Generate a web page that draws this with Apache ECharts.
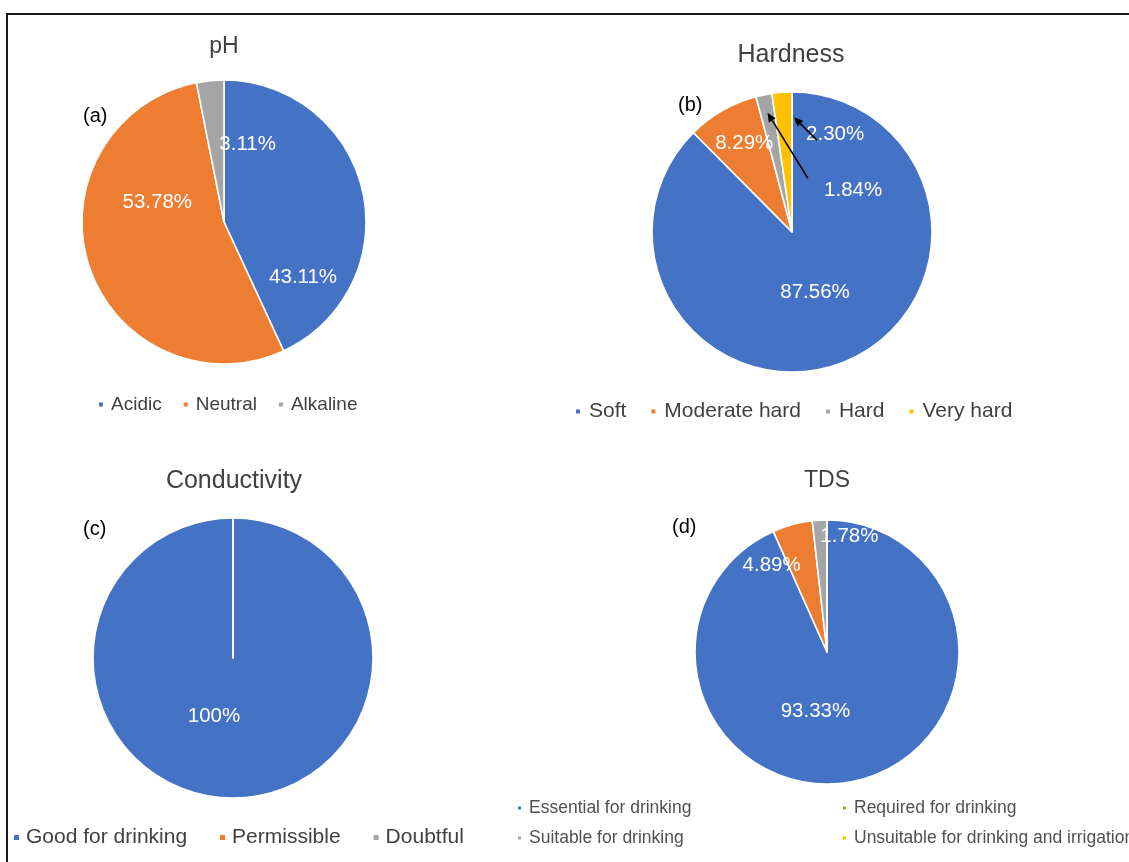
<!DOCTYPE html>
<html>
<head>
<meta charset="utf-8">
<title>Water quality classification</title>
<script src="https://cdn.jsdelivr.net/npm/echarts@6/dist/echarts.min.js"></script>
<style>
  html, body { margin: 0; padding: 0; background: #fff; }
  #chart { width: 1129px; height: 862px; }
</style>
</head>
<body>
<div id="chart"></div>
<script>
// ---- data (percent of samples in each class) ----
const phCategories = ['Acidic', 'Neutral', 'Alkaline'];
const phValues = [43.11, 53.78, 3.11];

const hardnessCategories = ['Soft', 'Moderate hard', 'Hard', 'Very hard'];
const hardnessValues = [87.56, 8.29, 1.84, 2.30];

const conductivityCategories = ['Good for drinking', 'Permissible', 'Doubtful'];
const conductivityValues = [100, 0, 0];

const tdsCategories = ['Essential for drinking', 'Required for drinking',
                       'Suitable for drinking', 'Unsuitable for drinking and irrigation'];
const tdsValues = [93.33, 4.89, 1.78, 0];

const panelTitles = ['pH', 'Hardness', 'Conductivity', 'TDS'];
const panelTags = ['(a)', '(b)', '(c)', '(d)'];

// ---- styling / layout ----
const FONT = '"Liberation Sans", Arial, Helvetica, sans-serif';
const PALETTE = ['#4472C4', '#ED7D31', '#A5A5A5', '#FFC000'];
const TEXT = '#404040';

// pie geometry and where each value label sits (clockwise degrees from 12 o'clock, fraction of radius)
const panels = [
  { cats: phCategories, vals: phValues, cx: 224, cy: 222, r: 142,
    titleX: 224, titleY: 47, titleSize: 23, tagX: 83, tagY: 117,
    labelPlaces: [[125, 0.68], [286.6, 0.49], [17, 0.57]] },
  { cats: hardnessCategories, vals: hardnessValues, cx: 792, cy: 232, r: 140,
    titleX: 791, titleY: 55, titleSize: 25, tagX: 678, tagY: 106,
    labelPlaces: [[159, 0.46], [331.7, 0.72], [55.5, 0.53], [23.9, 0.76]] },
  { cats: conductivityCategories, vals: conductivityValues, cx: 233, cy: 658, r: 140,
    titleX: 234, titleY: 481, titleSize: 25, tagX: 83, tagY: 530,
    labelPlaces: [[198, 0.44], [0, 0.5], [0, 0.5]] },
  { cats: tdsCategories, vals: tdsValues, cx: 827, cy: 652, r: 132,
    titleX: 827, titleY: 481, titleSize: 23, tagX: 672, tagY: 528,
    labelPlaces: [[191, 0.46], [327.5, 0.78], [11, 0.89], [0, 0.5]] }
];

function polar(cx, cy, r, deg) {
  const a = deg * Math.PI / 180;
  return [cx + r * Math.sin(a), cy - r * Math.cos(a)];
}

// clockwise start/end angles (deg from top) of each slice
function sliceAngles(vals) {
  const total = vals.reduce((s, v) => s + v, 0);
  let acc = 0;
  return vals.map(v => {
    const s = acc / total * 360;
    acc += v;
    return [s, acc / total * 360];
  });
}

function fmt(v) {
  return Number.isInteger(v) ? v + '%' : v.toFixed(2) + '%';
}

const series = panels.map((p, si) => ({
  type: 'pie',
  center: [p.cx, p.cy],
  radius: p.r,
  startAngle: 90,
  clockwise: true,
  silent: true,
  animation: false,
  avoidLabelOverlap: false,
  itemStyle: { borderColor: '#ffffff', borderWidth: 1.6 },
  label: {
    show: true,
    position: 'inside',
    color: '#ffffff',
    fontFamily: FONT,
    fontSize: 20.5,
    formatter: params => fmt(params.value)
  },
  labelLine: { show: false },
  labelLayout: params => {
    const place = p.labelPlaces[params.dataIndex];
    const pt = polar(p.cx, p.cy, p.r * place[1], place[0]);
    return { x: pt[0], y: pt[1], align: 'center', verticalAlign: 'middle' };
  },
  data: p.cats.map((name, i) => ({
    name: name,
    value: p.vals[i],
    itemStyle: { color: PALETTE[i] },
    label: { show: p.vals[i] > 0 }
  }))
}));

const titles = [];
panels.forEach((p, i) => {
  titles.push({
    text: panelTitles[i], left: p.titleX, top: p.titleY - p.titleSize / 2, textAlign: 'center', padding: 0,
    textStyle: { fontFamily: FONT, fontSize: p.titleSize, fontWeight: 'normal', color: TEXT }
  });
  titles.push({
    text: panelTags[i], left: p.tagX, top: p.tagY - 11, padding: 0,
    textStyle: { fontFamily: FONT, fontSize: 20, fontWeight: 'normal', color: '#000000' }
  });
});

function legendBase(extra) {
  return Object.assign({
    orient: 'horizontal', padding: 0, icon: 'rect', itemWidth: 6, itemHeight: 6,
    selectedMode: false,
    textStyle: { fontFamily: FONT, color: TEXT, padding: [0, 0, 0, 2] }
  }, extra);
}

const legends = [
  legendBase({ data: phCategories, left: 97, top: 395, itemGap: 20,
    textStyle: { fontFamily: FONT, color: TEXT, fontSize: 19, padding: [0, 0, 0, 2] } }),
  legendBase({ data: hardnessCategories, left: 574, top: 401, itemGap: 23,
    textStyle: { fontFamily: FONT, color: TEXT, fontSize: 21, padding: [0, 0, 0, 3] } }),
  legendBase({ data: conductivityCategories, left: 12, top: 827, itemGap: 31, itemWidth: 7, itemHeight: 7,
    textStyle: { fontFamily: FONT, color: TEXT, fontSize: 21, padding: [0, 0, 0, 1] } }),
  legendBase({ data: [tdsCategories[0], tdsCategories[2]], orient: 'vertical', left: 516, top: 799,
    itemGap: 12, itemWidth: 5, itemHeight: 5,
    textStyle: { fontFamily: FONT, color: '#505050', fontSize: 17.5, lineHeight: 18, padding: [0, 0, 0, 2] } }),
  legendBase({ data: [tdsCategories[1], tdsCategories[3]], orient: 'vertical', left: 841, top: 799,
    itemGap: 12, itemWidth: 5, itemHeight: 5,
    textStyle: { fontFamily: FONT, color: '#505050', fontSize: 17.5, lineHeight: 18, padding: [0, 0, 0, 2] } })
];

// call-out arrows for the two thin hardness slices
function arrow(from, to) {
  const dx = to[0] - from[0], dy = to[1] - from[1];
  const len = Math.hypot(dx, dy);
  const ux = dx / len, uy = dy / len;
  const hl = 9, hw = 4;
  const base = [to[0] - ux * hl, to[1] - uy * hl];
  return [
    { type: 'line', silent: true, z: 20,
      shape: { x1: from[0], y1: from[1], x2: base[0], y2: base[1] },
      style: { stroke: '#000', lineWidth: 1.6 } },
    { type: 'polygon', silent: true, z: 20,
      shape: { points: [to, [base[0] - uy * hw, base[1] + ux * hw], [base[0] + uy * hw, base[1] - ux * hw]] },
      style: { fill: '#000' } }
  ];
}

const hp = panels[1];
const hAngles = sliceAngles(hp.vals);
const hardArrow = arrow(
  polar(hp.cx, hp.cy, hp.r * 0.40, 16.5),
  polar(hp.cx, hp.cy, hp.r * 0.87, (hAngles[2][0] + hAngles[2][1]) / 2)
);
const veryHardArrow = arrow(
  polar(hp.cx, hp.cy, hp.r * 0.68, 15.2),
  polar(hp.cx, hp.cy, hp.r * 0.82, hAngles[3][1] + 1)
);

const graphics = [
  { type: 'rect', silent: true, z: 0,
    shape: { x: 7, y: 14, width: 1300, height: 1000 },
    style: { fill: 'none', stroke: '#1a1a1a', lineWidth: 2 } }
].concat(hardArrow, veryHardArrow);

const chart = echarts.init(document.getElementById('chart'), null, { renderer: 'canvas' });
chart.setOption({
  backgroundColor: '#ffffff',
  animation: false,
  title: titles,
  legend: legends,
  series: series,
  graphic: graphics
});
</script>
</body>
</html>
